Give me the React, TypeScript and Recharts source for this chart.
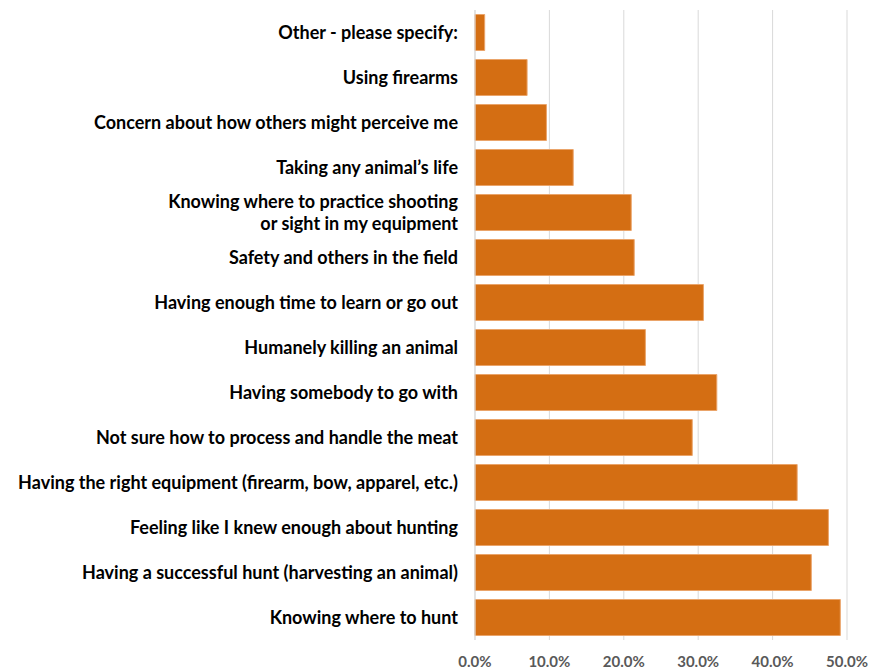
import { BarChart, Bar, XAxis, YAxis, CartesianGrid } from 'recharts';

const categories = [
  'Other - please specify:',
  'Using firearms',
  'Concern about how others might perceive me',
  'Taking any animal\u2019s life',
  'Knowing where to practice shooting\nor sight in my equipment',
  'Safety and others in the field',
  'Having enough time to learn or go out',
  'Humanely killing an animal',
  'Having somebody to go with',
  'Not sure how to process and handle the meat',
  'Having the right equipment (firearm, bow, apparel, etc.)',
  'Feeling like I knew enough about hunting',
  'Having a successful hunt (harvesting an animal)',
  'Knowing where to hunt',
];

const shares = [1.3, 7.0, 9.6, 13.2, 21.0, 21.4, 30.7, 22.9, 32.5, 29.2, 43.3, 47.5, 45.2, 49.1];

const xTicks = [0, 10, 20, 30, 40, 50];

const data = categories.map((name, i) => ({ name, value: shares[i] }));

const CategoryTick = ({ x, y, payload }: any) => {
  const lines = String(payload.value).split('\n');
  const lineHeight = 22;
  const startY = y - ((lines.length - 1) * lineHeight) / 2;
  return (
    <text
      x={x}
      y={startY}
      textAnchor="end"
      fill="#000"
      fontSize={18}
      fontWeight={700}
      fontFamily="Lato, sans-serif"
    >
      {lines.map((line, i) => (
        <tspan key={i} x={x} dy={i === 0 ? '0.35em' : lineHeight}>
          {line}
        </tspan>
      ))}
    </text>
  );
};

export default function App() {
  return (
    <div style={{ position: 'absolute', left: 0, top: 0, background: '#fff' }}>
      <BarChart
        width={880}
        height={669}
        data={data}
        layout="vertical"
        margin={{ top: 10, right: 33, left: 0, bottom: 0 }}
        barCategoryGap="10%"
      >
        <CartesianGrid horizontal={false} stroke="#d9d9d9" />
        <XAxis
          type="number"
          domain={[0, 50]}
          ticks={xTicks}
          tickFormatter={(v: number) => `${v.toFixed(1)}%`}
          axisLine={false}
          tickLine={false}
          tickSize={0}
          tickMargin={16}
          height={29}
          tick={{ fill: '#595959', fontSize: 15, fontWeight: 700, fontFamily: 'Lato, sans-serif' }}
        />
        <YAxis
          type="category"
          dataKey="name"
          width={475}
          axisLine={{ stroke: '#d9d9d9' }}
          tickLine={false}
          tickSize={0}
          tickMargin={17}
          interval={0}
          tick={<CategoryTick />}
        />
        <Bar dataKey="value" fill="#d46e13" stroke="#eaa46a" strokeWidth={1} isAnimationActive={false} />
      </BarChart>
    </div>
  );
}
